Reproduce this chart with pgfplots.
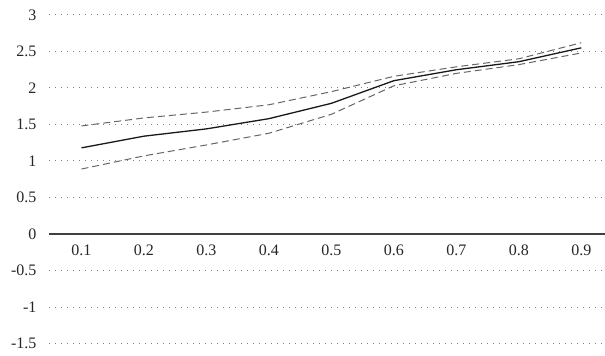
\documentclass[border=0pt]{standalone}
\usepackage{fontspec}
\setmainfont{Liberation Serif}
\usepackage{pgfplots}
\pgfplotsset{compat=1.18}
\begin{document}
\begin{tikzpicture}
\begin{axis}[name=ax, scale only axis, width=556pt, height=328.5pt,
  xmin=-0.52, xmax=8.38, ymin=-1.5, ymax=3,
  axis x line*=middle, axis y line*=left,
  y axis line style={draw=none},
  x axis line style={-, draw=black!75, line width=1.2pt},
  xtick={0,...,8}, xticklabels={0.1,0.2,0.3,0.4,0.5,0.6,0.7,0.8,0.9},
  ytick={-1.5,-1,-0.5,0,0.5,1,1.5,2,2.5,3},
  yticklabels={-1.5,-1,-0.5,0,0.5,1,1.5,2,2.5,3},
  major tick length=0pt,
  ymajorgrids, grid style={black!50, line width=1pt, dash pattern=on 1pt off 5pt},
  tick label style={font=\fontsize{16}{19}\selectfont, text=black!85},
  yticklabel style={xshift=-9pt},
  xticklabel style={yshift=-7pt},
  clip=false]
\addplot[black!90, line width=1.3pt] coordinates {(0,1.18) (1,1.34) (2,1.44) (3,1.58) (4,1.79) (5,2.10) (6,2.25) (7,2.36) (8,2.55)};
\addplot[black!60, line width=1pt, dash pattern=on 7pt off 4pt] coordinates {(0,1.48) (1,1.59) (2,1.67) (3,1.77) (4,1.95) (5,2.16) (6,2.29) (7,2.40) (8,2.62)};
\addplot[black!60, line width=1pt, dash pattern=on 7pt off 4pt] coordinates {(0,0.89) (1,1.07) (2,1.22) (3,1.38) (4,1.64) (5,2.03) (6,2.20) (7,2.32) (8,2.48)};
\end{axis}
\pgfresetboundingbox
\path ([shift={(-49pt,-11.5pt)}]ax.south west) rectangle ([shift={(0pt,15pt)}]ax.north east);
\end{tikzpicture}
\end{document}
